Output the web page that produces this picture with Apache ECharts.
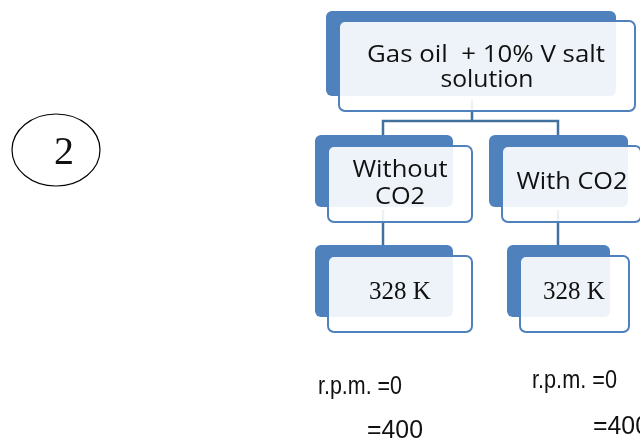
<!DOCTYPE html>
<html><head><meta charset="utf-8">
<script src="https://cdn.jsdelivr.net/npm/echarts@6/dist/echarts.min.js"></script>
<style>html,body{margin:0;padding:0;background:#fff}#c{width:640px;height:442px}</style>
</head><body><div id="c"></div>
<script>
const rootLabel = ['Gas oil  + 10% V salt', 'solution'];
const branchLabels = [['Without', 'CO2'], ['With CO2']];
const tempLabels = ['328 K', '328 K'];
const rpmLabels = [['r.p.m. =0', '=400'], ['r.p.m. =0', '=400']];
const markerLabel = '2';

const chart = echarts.init(document.getElementById('c'), null, {renderer: 'canvas'});
const BLUE = '#4f81bd', LINE = '#41719c';
const mctx = document.createElement('canvas').getContext('2d');

function card(back, front) {
  return [
    {type: 'rect', shape: {x: back[0], y: back[1], width: back[2] - back[0], height: back[3] - back[1], r: 6},
     style: {fill: BLUE}},
    {type: 'rect', shape: {x: front[0], y: front[1], width: front[2] - front[0], height: front[3] - front[1], r: 6},
     style: {fill: 'rgba(255,255,255,0.9)', stroke: BLUE, lineWidth: 2}}
  ];
}
function txt(x, y, s, font, width, align) {
  mctx.font = font;
  const w = mctx.measureText(s).width;
  const sx = width ? width / w : 1;
  return {type: 'text', x: x, y: y, scaleX: sx,
          style: {text: s, font: font, fill: '#111', align: align || 'center', verticalAlign: 'middle'}};
}
const SANS = (s) => s + 'px "Open Sans", "DejaVu Sans", sans-serif';
const SERIF = (s) => s + 'px "Liberation Serif", "DejaVu Serif", serif';
const NARROW = (s) => s + 'px "Liberation Sans", sans-serif';

const els = [];
const ln = (pts) => ({type: 'polyline', shape: {points: pts}, style: {stroke: LINE, lineWidth: 2.5, fill: null}});
els.push(ln([[472, 100], [472, 121]]));
els.push(ln([[383, 135], [383, 121], [558, 121], [558, 135]]));
els.push(ln([[383, 210], [383, 246]]));
els.push(ln([[558, 210], [558, 246]]));

els.push(...card([326, 11, 616, 96], [339, 21, 635, 111]));
els.push(...card([315, 135, 453, 207], [328, 146, 472, 222]));
els.push(...card([489, 135, 628, 207], [502, 146, 641, 222]));
els.push(...card([315, 245, 453, 317], [328, 256, 472, 332]));
els.push(...card([507, 245, 610, 317], [520, 256, 629, 332]));

els.push(txt(486, 55, rootLabel[0], SANS(24), 238));
els.push(txt(487, 80, rootLabel[1], SANS(24), 93));
els.push(txt(400, 170, branchLabels[0][0], SANS(24), 95));
els.push(txt(400, 197, branchLabels[0][1], SANS(24), 50));
els.push(txt(572, 182, branchLabels[1][0], SANS(24), 111));
els.push(txt(400, 292, tempLabels[0], SERIF(25)));
els.push(txt(574, 292, tempLabels[1], SERIF(25)));

const rpmPos = [[[318, 387, 84], [367, 431, 56]], [[532, 381, 85], [593, 427, 56]]];
rpmLabels.forEach((pair, i) => {
  pair.forEach((s, j) => {
    const p = rpmPos[i][j];
    els.push(txt(p[0], p[1], s, NARROW(25), p[2], 'left'));
  });
});

els.push({type: 'ellipse', shape: {cx: 56, cy: 150, rx: 44, ry: 36}, style: {fill: null, stroke: '#000', lineWidth: 1.2}});
els.push(txt(64, 153, markerLabel, SERIF(40)));

chart.setOption({backgroundColor: '#fff', animation: false, graphic: {elements: els}});
</script></body></html>
